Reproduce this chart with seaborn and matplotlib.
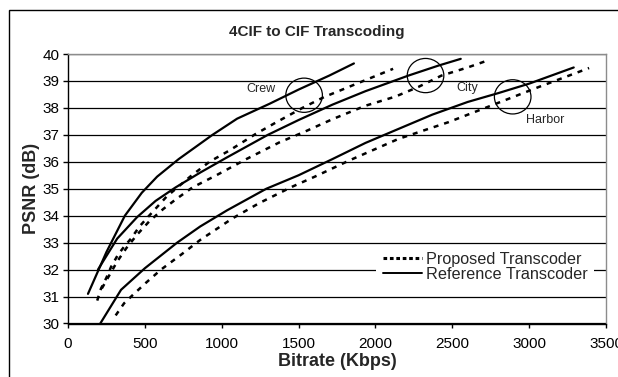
import numpy as np
import pandas as pd
import matplotlib
matplotlib.use("Agg")
import matplotlib.pyplot as plt
from matplotlib.patches import Ellipse, Rectangle
from matplotlib.lines import Line2D
import seaborn as sns

# ---------------- data ----------------
crew_ref_x = [130, 250, 370, 480, 580, 720, 940, 1100, 1310, 1500, 1700, 1860]
crew_ref_y = [31.1, 32.65, 34.0, 34.85, 35.45, 36.1, 37.0, 37.6, 38.15, 38.68, 39.2, 39.65]

crew_prop_x = [190, 215, 250, 280, 325, 365, 410, 465, 520, 640, 795, 920, 1050, 1220, 1350, 1525, 1665, 1900, 2115]
crew_prop_y = [30.85, 31.3, 31.7, 32.1, 32.55, 32.85, 33.15, 33.6, 33.95, 34.7, 35.45, 36.0, 36.42, 37.03, 37.45, 38.0, 38.4, 38.95, 39.45]

city_ref_x = [195, 320, 450, 570, 700, 860, 1030, 1300, 1500, 1720, 1935, 2215, 2410, 2555]
city_ref_y = [32.0, 33.15, 33.95, 34.55, 35.05, 35.6, 36.15, 37.0, 37.55, 38.12, 38.62, 39.2, 39.57, 39.82]

city_prop_x = [220, 270, 320, 380, 450, 530, 620, 700, 810, 965, 1160, 1375, 1545, 1720, 1935, 2130, 2280, 2430, 2600, 2740]
city_prop_y = [31.3, 31.8, 32.3, 32.8, 33.3, 33.8, 34.25, 34.6, 35.05, 35.5, 36.1, 36.72, 37.13, 37.58, 38.08, 38.42, 38.78, 39.2, 39.5, 39.78]

harbor_ref_x = [210, 345, 500, 710, 860, 1035, 1290, 1500, 1720, 1935, 2150, 2370, 2600, 2800, 3000, 3290]
harbor_ref_y = [30.0, 31.25, 32.05, 33.0, 33.6, 34.2, 35.0, 35.5, 36.1, 36.7, 37.22, 37.75, 38.22, 38.55, 38.9, 39.5]

harbor_prop_x = [310, 365, 420, 505, 605, 735, 860, 1070, 1245, 1460, 1610, 1830, 2150, 2475, 2755, 3060, 3390]
harbor_prop_y = [30.3, 30.75, 31.05, 31.5, 32.0, 32.55, 33.1, 33.9, 34.47, 35.08, 35.46, 36.05, 36.85, 37.47, 38.09, 38.77, 39.48]

methods = ["Proposed Transcoder", "Reference Transcoder"]
sequences = ["Crew", "City", "Harbor"]

label_x = [1254, 2600, 3103]
label_y = [38.70, 38.73, 37.56]
circle_x = [1536, 2326, 2893]
circle_y = [38.47, 39.2, 38.41]

x_ticks = [0, 500, 1000, 1500, 2000, 2500, 3000, 3500]
y_ticks = [30, 31, 32, 33, 34, 35, 36, 37, 38, 39, 40]

title = "4CIF to CIF Transcoding"
xlabel = "Bitrate (Kbps)"
ylabel = "PSNR (dB)"

# ---------------- long table ----------------
series = [
    ("Crew", methods[1], crew_ref_x, crew_ref_y),
    ("Crew", methods[0], crew_prop_x, crew_prop_y),
    ("City", methods[1], city_ref_x, city_ref_y),
    ("City", methods[0], city_prop_x, city_prop_y),
    ("Harbor", methods[1], harbor_ref_x, harbor_ref_y),
    ("Harbor", methods[0], harbor_prop_x, harbor_prop_y),
]
rows = []
for seq, meth, xs, ys in series:
    for xv, yv in zip(xs, ys):
        rows.append({"seq": seq, "method": meth, "x": xv, "y": yv, "key": seq + "|" + meth})
df = pd.DataFrame(rows)

# ---------------- style ----------------
sns.set_style("white")
plt.rcParams["font.family"] = ["Liberation Sans", "DejaVu Sans"]

fig = plt.figure(figsize=(6.18, 3.77), dpi=100)
ax = fig.add_axes([68 / 618, 1 - 323.5 / 377, (606 - 68) / 618, (323.5 - 54) / 377])

dash_pattern = (2.0, 2.4)
for key, sub in df.groupby("key", sort=False):
    meth = sub["method"].iloc[0]
    sns.lineplot(data=sub, x="x", y="y", ax=ax, sort=False, estimator=None,
                 color="black", lw=1.6 if meth == methods[1] else 1.8,
                 linestyle="-" if meth == methods[1] else (0, dash_pattern),
                 legend=False)

ax.set_xlim(0, 3500)
ax.set_ylim(30, 40)
ax.set_xticks(x_ticks)
ax.set_yticks(y_ticks)
ax.tick_params(axis="x", direction="out", length=3, width=1, colors="black",
               labelsize=11, pad=7, bottom=True)
ax.tick_params(axis="y", direction="out", length=3.6, width=1, colors="black",
               labelsize=11, pad=2.5, left=True)
ax.yaxis.grid(True, color="black", lw=0.9)
ax.xaxis.grid(False)
ax.set_axisbelow(True)
for s in ["left", "bottom"]:
    ax.spines[s].set_color("black")
    ax.spines[s].set_linewidth(1.0)
for s in ["top", "right"]:
    ax.spines[s].set_color("#8c8c8c")
    ax.spines[s].set_linewidth(1.0)

ax.set_xlabel(xlabel, fontsize=13, fontweight="bold", labelpad=1)
ax.set_ylabel(ylabel, fontsize=13, fontweight="bold", labelpad=2)

# circles and labels
for cx, cy in zip(circle_x, circle_y):
    ax.add_patch(Ellipse((cx, cy), width=238, height=1.27, fill=False,
                         ec="black", lw=0.9, zorder=5))
for lx, ly, name in zip(label_x, label_y, sequences):
    ax.text(lx, ly, name, fontsize=9, ha="center", va="center", zorder=6)

# legend
handles = [Line2D([], [], color="black", lw=2.2, linestyle=(0, (1.2, 0.9))),
           Line2D([], [], color="black", lw=1.4, linestyle="-")]
leg = ax.legend(handles, methods, loc="upper left",
                bbox_to_anchor=(0.573, 0.289), bbox_transform=ax.transAxes,
                borderaxespad=0, borderpad=0.4, fontsize=11.7,
                handlelength=2.4, handletextpad=0.25, labelspacing=0.0,
                frameon=True, fancybox=False, facecolor="white",
                edgecolor="none", framealpha=1)

fig.text(317 / 618, 1 - 32 / 377, title, fontsize=11, fontweight="bold",
         ha="center", va="center")

# outer chart border
fig.patches.append(Rectangle((8.5 / 618, -0.2), 1.5, (377 - 9.5) / 377 + 0.2,
                             transform=fig.transFigure, fill=False,
                             ec="black", lw=1.0))

fig.savefig("out.png", dpi=100)
